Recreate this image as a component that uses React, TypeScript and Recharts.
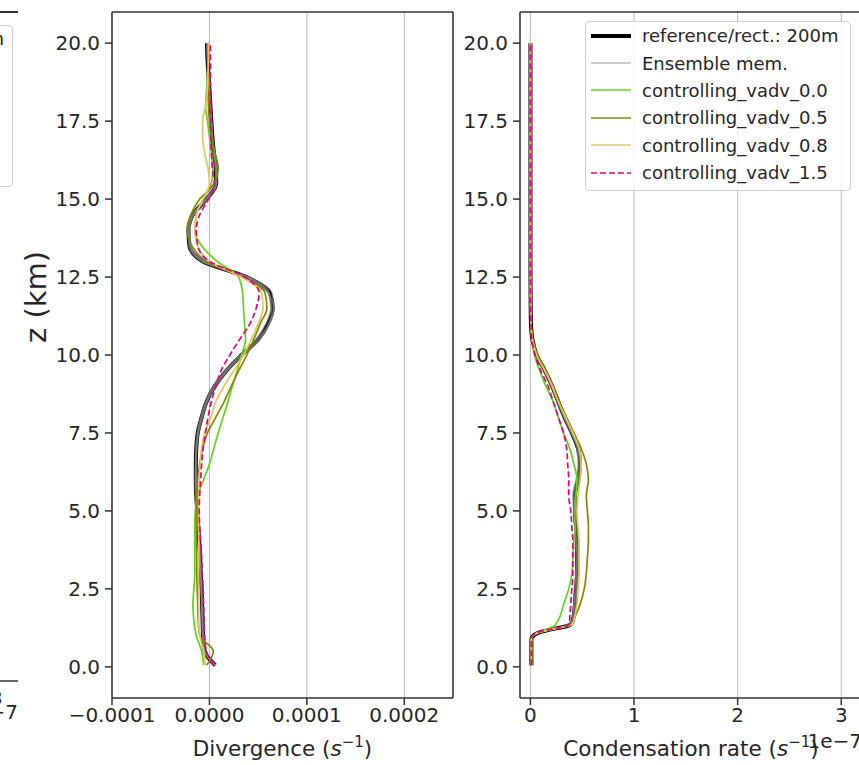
import React from "react";
import { LineChart, Line, XAxis, YAxis, CartesianGrid, ReferenceLine } from "recharts";

const FONT = "DejaVu Sans, sans-serif";
const INK = "#262626";
const SPINE = "#333";

// heights (km) for the divergence profiles
const divZ = [
  0.05, 0.5, 1, 1.5, 2, 2.5, 3, 3.5, 4, 4.5, 5, 5.5, 6, 6.5, 7, 7.5, 8, 8.5, 9, 9.5,
  10, 10.5, 11, 11.5, 12, 12.5, 13, 13.5, 14, 14.5, 15, 15.5, 16, 16.5, 17, 17.5, 18, 18.5,
  19, 19.5, 20,
];

// divergence, units of 1e-5 s^-1
const divReference = [
  0.6, -0.5, -0.65, -0.7, -0.75, -0.8, -0.9, -0.95, -1.05, -1.15, -1.25, -1.35, -1.4, -1.4,
  -1.35, -1.2, -0.8, -0.3, 0.55, 1.75, 3.3, 5.0, 6.0, 6.5, 6.2, 3.8, -0.65, -2.05, -2.15,
  -1.7, -0.3, 0.7, 0.65, 0.45, 0.3, 0.2, 0.1, 0.0, -0.1, -0.2, -0.25,
];
const divMember1 = [
  0.5, -0.45, -0.6, -0.7, -0.75, -0.85, -0.9, -1.0, -1.1, -1.2, -1.3, -1.4, -1.45, -1.45,
  -1.4, -1.25, -0.9, -0.4, 0.4, 1.6, 3.2, 4.9, 6.1, 6.6, 6.4, 4.0, -0.5, -1.95, -2.2, -1.8,
  -0.4, 0.6, 0.7, 0.5, 0.35, 0.25, 0.15, 0.05, -0.05, -0.15, -0.2,
];
const divMember2 = [
  0.7, -0.55, -0.7, -0.75, -0.8, -0.85, -0.95, -1.0, -1.05, -1.1, -1.2, -1.3, -1.35, -1.35,
  -1.3, -1.1, -0.7, -0.2, 0.7, 1.9, 3.5, 5.2, 6.2, 6.6, 6.0, 3.6, -0.8, -2.1, -2.1, -1.6,
  -0.2, 0.75, 0.6, 0.4, 0.25, 0.15, 0.05, -0.05, -0.15, -0.2, -0.2,
];
const divMember3 = [
  0.55, -0.5, -0.6, -0.65, -0.7, -0.75, -0.85, -0.9, -1.0, -1.1, -1.2, -1.3, -1.35, -1.4,
  -1.35, -1.2, -0.85, -0.35, 0.5, 1.7, 3.2, 4.8, 5.8, 6.3, 6.1, 3.9, -0.6, -1.9, -2.0, -1.6,
  -0.35, 0.65, 0.7, 0.5, 0.3, 0.2, 0.1, 0.0, -0.1, -0.15, -0.2,
];
const divMember4 = [
  0.65, -0.5, -0.7, -0.75, -0.8, -0.85, -0.9, -0.95, -1.05, -1.15, -1.3, -1.4, -1.45, -1.4,
  -1.3, -1.15, -0.75, -0.25, 0.6, 1.8, 3.4, 5.1, 6.1, 6.4, 6.1, 3.7, -0.7, -2.0, -2.1, -1.75,
  -0.25, 0.75, 0.7, 0.4, 0.3, 0.2, 0.1, 0.0, -0.1, -0.2, -0.3,
];
const divVadv00 = [
  -0.6, -0.8, -1.35, -1.6, -1.7, -1.6, -1.5, -1.5, -1.5, -1.5, -1.45, -1.2, -0.6, 0.0, 0.45,
  0.9, 1.4, 1.9, 2.35, 2.85, 3.3, 3.7, 3.6, 3.5, 3.4, 3.0, 0.8, -0.8, -1.5, -1.35, -0.65,
  0.2, 0.35, 0.2, 0.0, -0.2, -0.4, -0.3, -0.2, -0.15, -0.15,
];
const divVadv05 = [
  -0.3, 0.4, -1.0, -1.15, -1.2, -1.25, -1.3, -1.3, -1.35, -1.35, -1.35, -1.3, -1.2, -1.0,
  -0.7, -0.2, 0.65, 1.5, 2.25, 3.0, 3.85, 4.55, 5.2, 5.9, 5.7, 3.3, -0.3, -1.8, -2.3, -1.9,
  -1.0, 0.5, 0.9, 0.55, 0.2, 0.0, -0.1, -0.15, -0.15, -0.15, -0.15,
];
const divVadv08 = [
  -0.4, -0.6, -1.0, -1.1, -1.1, -1.1, -1.1, -1.1, -1.1, -1.1, -1.1, -1.1, -1.05, -0.95,
  -0.8, -0.5, 0.15, 0.65, 1.5, 2.5, 3.5, 4.3, 5.0, 5.5, 5.35, 3.3, 0.0, -1.2, -1.5, -1.35,
  -0.65, 0.0, -0.15, -0.5, -0.7, -0.7, -0.4, -0.2, -0.15, -0.1, -0.1,
];
const divVadv15 = [
  0.4, -0.3, -0.5, -0.55, -0.6, -0.65, -0.75, -0.8, -0.9, -1.0, -1.05, -1.0, -0.9, -0.8,
  -0.65, -0.4, -0.15, 0.2, 0.65, 1.2, 2.1, 3.1, 4.15, 4.8, 5.1, 3.6, 0.0, -1.2, -1.35, -1.0,
  -0.1, 0.5, 0.3, 0.2, 0.15, 0.15, 0.15, 0.1, 0.1, 0.1, 0.1,
];

// heights (km) for the condensation profiles
const condZ = [
  0.05, 0.5, 0.9, 1.0, 1.1, 1.2, 1.3, 1.4, 1.5, 2, 2.5, 3, 3.5, 4, 4.5, 5, 5.5, 6, 6.5, 7,
  7.5, 8, 8.5, 9, 9.5, 10, 10.5, 11, 11.5, 12, 13, 14, 15, 16, 17, 18, 19, 20,
];

// condensation rate, units of 1e-7 s^-1
const condReference = [
  0.01, 0.01, 0.01, 0.03, 0.08, 0.2, 0.35, 0.4, 0.41, 0.43, 0.44, 0.45, 0.45, 0.45, 0.44,
  0.43, 0.43, 0.46, 0.48, 0.46, 0.4, 0.33, 0.27, 0.21, 0.14, 0.06, 0.02, 0.006, 0.003,
  0.002, 0.001, 0.001, 0.001, 0.001, 0.001, 0.001, 0.001, 0.001,
];
const condMember1 = [
  0.01, 0.01, 0.01, 0.03, 0.09, 0.22, 0.36, 0.4, 0.42, 0.44, 0.45, 0.46, 0.46, 0.46, 0.45,
  0.44, 0.44, 0.47, 0.49, 0.47, 0.41, 0.34, 0.28, 0.22, 0.15, 0.07, 0.02, 0.006, 0.003,
  0.002, 0.001, 0.001, 0.001, 0.001, 0.001, 0.001, 0.001, 0.001,
];
const condMember2 = [
  0.01, 0.01, 0.01, 0.03, 0.07, 0.18, 0.33, 0.38, 0.4, 0.42, 0.43, 0.44, 0.44, 0.44, 0.43,
  0.42, 0.41, 0.44, 0.46, 0.45, 0.39, 0.32, 0.26, 0.2, 0.13, 0.05, 0.02, 0.006, 0.003,
  0.002, 0.001, 0.001, 0.001, 0.001, 0.001, 0.001, 0.001, 0.001,
];
const condMember3 = [
  0.01, 0.01, 0.01, 0.03, 0.08, 0.21, 0.35, 0.41, 0.42, 0.43, 0.45, 0.45, 0.46, 0.45, 0.45,
  0.44, 0.42, 0.45, 0.47, 0.46, 0.4, 0.33, 0.27, 0.21, 0.14, 0.06, 0.02, 0.006, 0.003,
  0.002, 0.001, 0.001, 0.001, 0.001, 0.001, 0.001, 0.001, 0.001,
];
const condMember4 = [
  0.01, 0.01, 0.01, 0.03, 0.08, 0.19, 0.34, 0.39, 0.41, 0.42, 0.44, 0.44, 0.45, 0.44, 0.43,
  0.42, 0.43, 0.46, 0.48, 0.46, 0.4, 0.33, 0.27, 0.21, 0.14, 0.06, 0.02, 0.006, 0.003,
  0.002, 0.001, 0.001, 0.001, 0.001, 0.001, 0.001, 0.001, 0.001,
];
const condVadv00 = [
  0.01, 0.01, 0.01, 0.03, 0.07, 0.15, 0.23, 0.25, 0.27, 0.32, 0.37, 0.4, 0.41, 0.42, 0.43,
  0.43, 0.44, 0.45, 0.42, 0.38, 0.32, 0.27, 0.22, 0.15, 0.09, 0.04, 0.015, 0.005, 0.002,
  0.001, 0.001, 0.001, 0.001, 0.001, 0.001, 0.001, 0.001, 0.001,
];
const condVadv05 = [
  0.01, 0.01, 0.01, 0.03, 0.08, 0.2, 0.36, 0.41, 0.42, 0.48, 0.52, 0.54, 0.55, 0.56, 0.56,
  0.55, 0.54, 0.56, 0.54, 0.49, 0.42, 0.35, 0.28, 0.22, 0.15, 0.07, 0.025, 0.008, 0.003,
  0.002, 0.001, 0.001, 0.001, 0.001, 0.001, 0.001, 0.001, 0.001,
];
const condVadv08 = [
  0.01, 0.01, 0.01, 0.03, 0.08, 0.2, 0.35, 0.41, 0.42, 0.45, 0.46, 0.47, 0.47, 0.47, 0.46,
  0.45, 0.46, 0.48, 0.49, 0.47, 0.41, 0.34, 0.27, 0.21, 0.14, 0.06, 0.02, 0.006, 0.003,
  0.002, 0.001, 0.001, 0.001, 0.001, 0.001, 0.001, 0.001, 0.001,
];
const condVadv15 = [
  0.01, 0.01, 0.01, 0.03, 0.07, 0.19, 0.35, 0.38, 0.38, 0.39, 0.4, 0.41, 0.41, 0.41, 0.4,
  0.39, 0.37, 0.37, 0.36, 0.35, 0.32, 0.27, 0.22, 0.17, 0.1, 0.045, 0.015, 0.005, 0.002,
  0.001, 0.001, 0.001, 0.001, 0.001, 0.001, 0.001, 0.001, 0.001,
];

const zTicks = [0, 2.5, 5, 7.5, 10, 12.5, 15, 17.5, 20];
const divTicks = [-10, 0, 10, 20]; // 1e-5 s^-1
const condTicks = [0, 1, 2, 3]; // 1e-7 s^-1

// line styles, in drawing order
const series = [
  { key: "ref", name: "reference/rect.: 200m", color: "#000", width: 4, opacity: 1, dash: undefined },
  { key: "m1", name: "Ensemble mem.", color: "#8c8c8c", width: 1.5, opacity: 0.6, dash: undefined },
  { key: "m2", name: "", color: "#8c8c8c", width: 1.5, opacity: 0.6, dash: undefined },
  { key: "m3", name: "", color: "#8c8c8c", width: 1.5, opacity: 0.6, dash: undefined },
  { key: "m4", name: "", color: "#8c8c8c", width: 1.5, opacity: 0.6, dash: undefined },
  { key: "v00", name: "controlling_vadv_0.0", color: "#5fd618", width: 1.7, opacity: 1, dash: undefined },
  { key: "v05", name: "controlling_vadv_0.5", color: "#7f8a00", width: 1.7, opacity: 1, dash: undefined },
  { key: "v08", name: "controlling_vadv_0.8", color: "#eac463", width: 1.7, opacity: 1, dash: undefined },
  { key: "v15", name: "controlling_vadv_1.5", color: "#e6007e", width: 1.7, opacity: 1, dash: "6 3" },
];

const buildRows = (z: number[], cols: Record<string, number[]>) =>
  z.map((zz, i) => {
    const row: Record<string, number> = { z: zz };
    Object.keys(cols).forEach((k) => (row[k] = cols[k][i]));
    return row;
  });

const divRows = buildRows(divZ, {
  ref: divReference, m1: divMember1, m2: divMember2, m3: divMember3, m4: divMember4,
  v00: divVadv00, v05: divVadv05, v08: divVadv08, v15: divVadv15,
});
const condRows = buildRows(condZ, {
  ref: condReference, m1: condMember1, m2: condMember2, m3: condMember3, m4: condMember4,
  v00: condVadv00, v05: condVadv05, v08: condVadv08, v15: condVadv15,
});

const Z_DOMAIN: [number, number] = [-1, 21];
const tickStyle = { fontSize: 20, fill: INK, fontFamily: FONT };
const spine = { stroke: SPINE, strokeWidth: 1.5 };

const minus = (s: string) => s.replace("-", "\u2212");

const unitLabel = (title: string, offset?: string) => (props: any) => {
  const vb = props.viewBox || {};
  const cx = vb.x + vb.width / 2;
  const y = vb.y + 58;
  return (
    <g>
      <text x={cx} y={y} textAnchor="middle" fontSize={21.5} fontFamily={FONT} fill={INK}>
        {title} (<tspan fontStyle="italic">s</tspan>
        <tspan dy={-9} fontSize={15}>{"\u22121"}</tspan>
        <tspan dy={9}>)</tspan>
      </text>
      {offset ? (
        <text x={vb.x + vb.width} y={y - 8} textAnchor="end" fontSize={20} fontFamily={FONT} fill={INK}>
          {offset}
        </text>
      ) : null}
    </g>
  );
};

const zLabel = () => (
  <text x={46} y={297} transform="rotate(-90 46 297)" textAnchor="middle" fontSize={29} fontFamily={FONT} fill={INK}>
    z (km)
  </text>
);

type PanelProps = {
  rows: Record<string, number>[];
  width: number;
  yWidth: number;
  xDomain: [number, number];
  xTicks: number[];
  xFormat: (v: number) => string;
  xLabel: any;
  yLabel?: any;
};

const ProfilePanel: React.FC<PanelProps> = ({ rows, width, yWidth, xDomain, xTicks, xFormat, xLabel, yLabel }) => (
  <LineChart layout="vertical" width={width} height={765} data={rows} margin={{ top: 12, right: 8, bottom: 0, left: 0 }}>
    <CartesianGrid horizontal={false} stroke="#b8b8b8" strokeWidth={1} />
    <XAxis
      type="number"
      domain={xDomain}
      ticks={xTicks}
      allowDataOverflow
      tickFormatter={xFormat}
      height={67}
      tickSize={7}
      tickMargin={3}
      tick={tickStyle}
      axisLine={spine}
      tickLine={spine}
      label={{ content: xLabel }}
    />
    <YAxis
      type="number"
      dataKey="z"
      domain={Z_DOMAIN}
      ticks={zTicks}
      reversed
      allowDataOverflow
      tickFormatter={(v: number) => v.toFixed(1)}
      width={yWidth}
      tickSize={7}
      tickMargin={5}
      tick={tickStyle}
      axisLine={spine}
      tickLine={spine}
      label={yLabel ? { content: yLabel } : undefined}
    />
    {series.map((s) => (
      <Line
        key={s.key}
        dataKey={s.key}
        type="monotone"
        stroke={s.color}
        strokeWidth={s.width}
        strokeOpacity={s.opacity}
        strokeDasharray={s.dash}
        dot={false}
        activeDot={false}
        isAnimationActive={false}
      />
    ))}
    {/* top and right spines */}
    <ReferenceLine x={xDomain[1]} stroke={SPINE} strokeWidth={1.5} />
    <ReferenceLine y={Z_DOMAIN[1]} stroke={SPINE} strokeWidth={1.5} />
  </LineChart>
);

const legendRows = series.filter((s) => s.name !== "");

const LegendBox: React.FC = () => (
  <div
    style={{
      position: "absolute",
      left: 585,
      top: 21,
      width: 264,
      height: 168,
      border: "1px solid #d0d0d0",
      borderRadius: 4,
      background: "rgba(255,255,255,0.8)",
      fontFamily: FONT,
      fontSize: 18,
      color: INK,
    }}
  >
    {legendRows.map((s) => (
      <div key={s.key} style={{ height: 27.4, display: "flex", alignItems: "center" }}>
        <svg width={56} height={12} style={{ flex: "none" }}>
          <line x1={5} x2={45} y1={6} y2={6} stroke={s.color} strokeWidth={s.width} strokeOpacity={s.opacity} strokeDasharray={s.dash} />
        </svg>
        <span style={{ whiteSpace: "nowrap" }}>{s.name}</span>
      </div>
    ))}
  </div>
);

// right edge of a neighbouring panel, cut off by the figure crop
const CUT_DOMAIN: [number, number] = [-0.1, 3.2];
const cutRows = [{ z: 0, v: 0 }, { z: 20, v: 0 }];
const CutPanel: React.FC = () => (
  <div style={{ position: "absolute", left: -340, top: 0 }}>
    <LineChart layout="vertical" width={366} height={765} data={cutRows} margin={{ top: 12, right: 8, bottom: 0, left: 0 }}>
      <XAxis
        type="number"
        domain={CUT_DOMAIN}
        ticks={condTicks}
        allowDataOverflow
        height={84}
        tickSize={7}
        tickMargin={3}
        tick={tickStyle}
        axisLine={spine}
        tickLine={spine}
        label={{
          content: (p: any) => (
            <text x={p.viewBox.x + p.viewBox.width} y={p.viewBox.y + 38} textAnchor="end" fontSize={20} fontFamily={FONT} fill={INK}>
              1e{"\u2212"}7
            </text>
          ),
        }}
      />
      <YAxis type="number" dataKey="z" domain={Z_DOMAIN} reversed allowDataOverflow width={0} tick={false} tickLine={false} axisLine={false} />
      <Line dataKey="v" stroke="none" dot={false} activeDot={false} isAnimationActive={false} />
    </LineChart>
    {/* top spine of the cropped panel */}
    <div style={{ position: "absolute", left: 0, top: 11.25, width: 358, height: 1.5, background: SPINE }} />
  </div>
);

export default function App() {
  return (
    <div style={{ position: "fixed", left: 0, top: 0, width: 859, height: 765, overflow: "hidden", background: "#fff" }}>
      <CutPanel />
      <div
        style={{
          position: "absolute",
          left: -250,
          top: 25,
          width: 261,
          height: 160,
          border: "1px solid #d0d0d0",
          borderRadius: 4,
          fontFamily: FONT,
          fontSize: 18,
          color: INK,
        }}
      >
        <div style={{ position: "absolute", right: 8, top: 2, whiteSpace: "nowrap" }}>reference/rect.: 200m</div>
      </div>
      <div style={{ position: "absolute", left: 0, top: 0 }}>
        <ProfilePanel
          rows={divRows}
          width={461}
          yWidth={112}
          xDomain={[-10, 25]}
          xTicks={divTicks}
          xFormat={(v) => minus((v * 1e-5).toFixed(4))}
          xLabel={unitLabel("Divergence")}
          yLabel={zLabel}
        />
      </div>
      <div style={{ position: "absolute", left: 460, top: 0 }}>
        <ProfilePanel
          rows={condRows}
          width={410}
          yWidth={60}
          xDomain={[-0.1, 3.2]}
          xTicks={condTicks}
          xFormat={(v) => String(v)}
          xLabel={unitLabel("Condensation rate", "1e\u22127")}
        />
      </div>
      <LegendBox />
    </div>
  );
}
